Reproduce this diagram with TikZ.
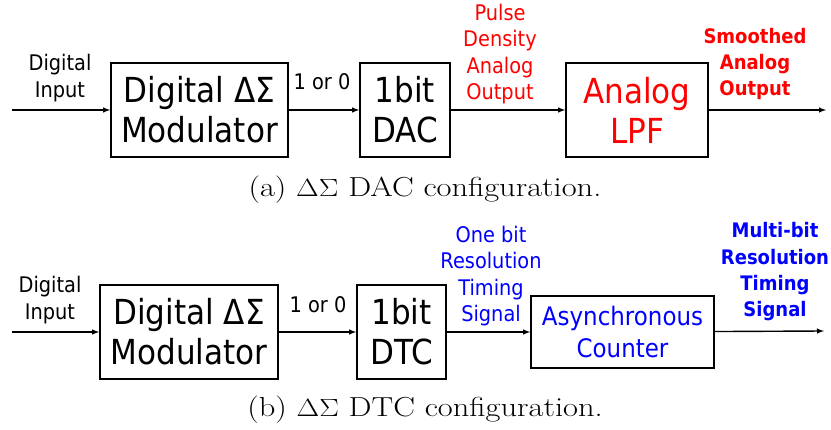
\documentclass[tikz,border=0pt]{standalone}
\usepackage{fontspec}
\usepackage{graphicx}
\newfontfamily\blockfont{DejaVu Sans}[FakeStretch=0.9]
\usetikzlibrary{positioning}

\newcommand*{\picw}{831}
\newcommand*{\pich}{430}
\newcommand*{\widecap}[1]{\scalebox{1.18}[1]{#1}}

\begin{document}
\begin{tikzpicture}
[
	x=1pt,y=-1pt,
	block/.style={draw,line width=1.6pt,align=center,inner sep=0pt,font=\blockfont\fontsize{34.5}{40}\selectfont},
	sig/.style={->,>=latex,line width=1.4pt},
	lbl/.style={align=center,inner sep=0pt,font=\blockfont\fontsize{21.5}{26.3}\selectfont},
	boldlbl/.style={align=center,inner sep=0pt,font=\blockfont\bfseries\fontsize{20}{26.3}\selectfont},
	captext/.style={inner sep=0pt,font=\fontsize{27.5}{32}\selectfont}
]

	\useasboundingbox (0,0) rectangle (\picw,\pich);

	% (a) DAC
	\node[block,minimum width=177,minimum height=94] (moda) at (199.5,110) {Digital ΔΣ\\Modulator};
	\node[block,minimum width=90,minimum height=94] (dac) at (405,110) {1bit\\DAC};
	\node[block,minimum width=142,minimum height=94,text=red] (lpf) at (637,110) {Analog\\LPF};
	\coordinate (ina) at (12,110);
	\coordinate (outa) at (826,110);

	\draw[sig] (ina) -- (moda);
	\draw[sig] (moda) -- (dac);
	\draw[sig] (dac) -- (lpf);
	\draw[sig] (lpf) -- (outa);

	\node[lbl] (dina) at (60,78) {Digital\\Input};
	\node[lbl] (bita) at (322,82) {1 or 0};
	\node[lbl,text=red] (pdm) at (500,54) {Pulse\\Density\\Analog\\Output};
	\node[boldlbl,text=red] (smooth) at (755,64) {Smoothed\\Analog\\Output};

	\node[captext] (capa) at (425,190) {\widecap{(a) $\Delta\Sigma$ DAC configuration.}};

	% (b) DTC
	\node[block,minimum width=178,minimum height=94] (modb) at (189,332) {Digital ΔΣ\\Modulator};
	\node[block,minimum width=89,minimum height=94] (dtc) at (401.5,332) {1bit\\DTC};
	\node[block,minimum width=183,minimum height=72,text=blue,font=\blockfont\fontsize{25.5}{32}\selectfont] (cnt) at (622.5,332) {Asynchronous\\Counter};
	\coordinate (inb) at (12,332);
	\coordinate (outb) at (824,331);

	\draw[sig] (inb) -- (modb);
	\draw[sig] (modb) -- (dtc);
	\draw[sig] (dtc) -- (cnt);
	\draw[sig] (cnt) -- (outb);

	\node[lbl] (dinb) at (50,300) {Digital\\Input};
	\node[lbl] (bitb) at (318,305) {1 or 0};
	\node[lbl,text=blue] (onebit) at (491,276) {One bit\\Resolution\\Timing\\Signal};
	\node[boldlbl,text=blue] (multi) at (775,272) {Multi-bit\\Resolution\\Timing\\Signal};

	\node[captext] (capb) at (425,410) {\widecap{(b) $\Delta\Sigma$ DTC configuration.}};

\end{tikzpicture}
\end{document}
